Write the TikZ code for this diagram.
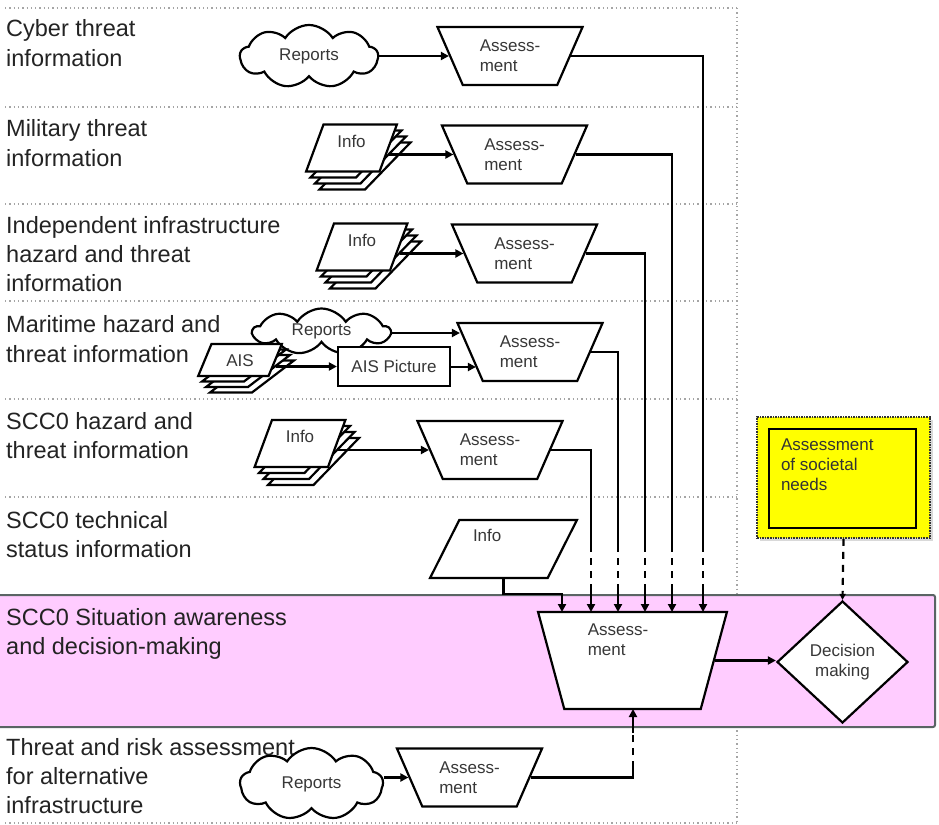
\documentclass[tikz,border=0pt]{standalone}
\usepackage{fontspec}
\setmainfont{Liberation Sans}
\usetikzlibrary{
    arrows.meta,
    shapes.geometric,
    shapes.symbols,
    positioning,
    calc,
    shadows
}
\definecolor{bandpink}{RGB}{255,204,255}
\definecolor{bandline}{RGB}{90,100,100}
\definecolor{gridgray}{RGB}{165,165,165}
\definecolor{labeltext}{RGB}{35,35,35}
\definecolor{shapetext}{RGB}{55,55,55}
\definecolor{needyellow}{RGB}{255,255,0}
\tikzstyle{rowlabel} = [
    anchor=north west,
    inner sep=0pt,
    align=left,
    text=labeltext,
    font=\fontsize{23.5}{29.3}\selectfont
]
\tikzstyle{smalltxt} = [
    inner sep=0pt,
    align=left,
    text=shapetext,
    font=\fontsize{17}{20}\selectfont
]
\tikzstyle{assess} = [
    smalltxt,
    trapezium,
    trapezium stretches=true,
    trapezium left angle=63,
    trapezium right angle=63,
    shape border rotate=180,
    draw=black,
    line width=2.2pt,
    fill=white,
    minimum width=146pt,
    minimum height=58pt
]
\tikzstyle{sheet} = [
    smalltxt,
    trapezium,
    trapezium stretches=true,
    trapezium left angle=71,
    trapezium right angle=109,
    draw=black,
    line width=2.2pt,
    fill=white,
    minimum width=91pt,
    minimum height=47pt,
    text height=12pt,
    text depth=13.6pt
]
\tikzstyle{aissheet} = [
    sheet,
    trapezium left angle=62,
    trapezium right angle=118,
    minimum width=84pt,
    minimum height=32pt,
    text depth=0pt
]
\tikzstyle{report} = [
    smalltxt,
    cloud,
    cloud puffs=9,
    cloud puff arc=115,
    cloud ignores aspect,
    draw=black,
    line width=2.2pt,
    fill=white
]
\tikzstyle{wire} = [
    draw=black,
    line width=2.2pt
]
\tikzstyle{arrow} = [
    wire,
    -{Triangle[length=8pt,width=8pt]}
]
\tikzstyle{broken} = [
    wire,
    dash pattern=on 7pt off 6pt
]
\tikzstyle{gridline} = [
    draw=gridgray,
    line width=1.3pt,
    dash pattern=on 1.3pt off 3pt
]
\tikzstyle{band} = [
    rectangle,
    rounded corners=2pt,
    draw=bandline,
    line width=2pt,
    fill=bandpink,
    minimum width=938pt,
    minimum height=132pt,
    inner sep=0pt
]

\begin{document}
\begin{tikzpicture}[x=1pt, y=-1pt]
    \useasboundingbox (0,0) rectangle (939,824);

    % Row separators
    \draw[gridline] (5,8) -- (737,8) (5,107) -- (737,107) (5,204) -- (737,204)
        (5,301) -- (737,301) (5,399) -- (737,399) (5,497) -- (737,497)
        (5,823) -- (737,823) (737,8) -- (737,823);

    % Decision band
    \node[band] (band) at (466,661) {};

    % Row labels
    \node[rowlabel] (lab1) at (6,19.5) {Cyber threat\\information};
    \node[rowlabel] (lab2) at (6,119.5) {Military threat\\information};
    \node[rowlabel] (lab3) at (6,215.8) {Independent infrastructure\\hazard and threat\\information};
    \node[rowlabel] (lab4) at (6,315.5) {Maritime hazard and\\threat information};
    \node[rowlabel] (lab5) at (6,412.1) {SCC0 hazard and\\threat information};
    \node[rowlabel] (lab6) at (6,511.1) {SCC0 technical\\status information};
    \node[rowlabel] (lab7) at (6,607.8) {SCC0 Situation awareness\\and decision-making};
    \node[rowlabel] (lab8) at (6,737.8) {Threat and risk assessment\\for alternative\\infrastructure};

    % Sources
    \node[report, minimum width=138pt, minimum height=63pt] (rep1) at (309,56.5) {Reports};

    \node[sheet] (inf2c) at (365,166) {};
    \node[sheet] (inf2b) at (360.5,160) {};
    \node[sheet] (inf2a) at (356,154) {};
    \node[sheet] (inf2) at (351.5,148) {Info};

    \node[sheet] (inf3c) at (375.5,265) {};
    \node[sheet] (inf3b) at (371,259) {};
    \node[sheet] (inf3a) at (366.5,253) {};
    \node[sheet] (inf3) at (362,247) {Info};

    \node[report, minimum width=137pt, minimum height=46pt] (rep4) at (321.5,331.5) {Reports};
    \node[aissheet] (aisc) at (252,376.5) {};
    \node[aissheet] (aisb) at (248,371) {};
    \node[aissheet] (aisa) at (244,365.5) {};
    \node[aissheet] (ais) at (240,360) {AIS};
    \node[smalltxt, draw=black, line width=2.2pt, fill=white, align=center,
        minimum width=112pt, minimum height=39pt] (aispic) at (394,366.5) {AIS Picture};

    \node[sheet] (inf5c) at (313.5,461.5) {};
    \node[sheet] (inf5b) at (309,455.5) {};
    \node[sheet] (inf5a) at (304.5,449.5) {};
    \node[sheet] (inf5) at (300,443.5) {Info};

    \node[sheet, trapezium left angle=63, trapezium right angle=117,
        minimum width=147pt, minimum height=58pt, text width=61pt,
        text depth=27.6pt] (inf6) at (503.5,549) {Info};

    \node[report, minimum width=143pt, minimum height=72pt] (rep8) at (311.5,784) {Reports};

    % First-level assessments
    \node[assess] (as1) at (510,56) {Assess-\\ment};
    \node[assess] (as2) at (514.5,154.5) {Assess-\\ment};
    \node[assess] (as3) at (524.5,253.5) {Assess-\\ment};
    \node[assess] (as4) at (530,352) {Assess-\\ment};
    \node[assess] (as5) at (490,450) {Assess-\\ment};
    \node[assess] (as8) at (469.5,777.5) {Assess-\\ment};

    % Situation assessment and decision
    \node[assess, trapezium left angle=69, trapezium right angle=69,
        minimum width=189pt, minimum height=97pt,
        text width=20pt, text height=10pt] (cass) at (632.5,660.5) {};
    \node[smalltxt] (casstxt) at ([shift={(-14.5,-20.5)}]cass.center) {Assess-\\ment};
    \node[smalltxt, diamond, draw=black, line width=2.2pt, fill=white, align=center,
        minimum width=131pt, minimum height=122pt] (dec) at (842.5,662) {Decision\\making};

    % Societal needs
    \node[draw=black!80, densely dotted, line width=1.6pt, fill=needyellow,
        minimum width=173pt, minimum height=121pt,
        drop shadow={opacity=0.3, shadow xshift=3pt, shadow yshift=-3pt}] (soc) at (843.5,477.5) {};
    \node[draw=black, line width=2.4pt, minimum width=147pt, minimum height=99pt] (socin) at (842.5,478.5) {};
    \node[smalltxt, anchor=north west, text=black!80] (soctxt)
        at ([shift={(13,11)}]socin.north west) {Assessment\\of societal\\needs};

    % Inputs to first-level assessments
    \draw[arrow] (rep1.east |- as1.west) -- (as1.west);
    \draw[arrow] (inf2.east |- as2.west) -- (as2.west);
    \draw[arrow] (inf3.east |- as3.west) -- (as3.west);
    \coordinate (as4in) at ($(as4.west)+(-9,-19)$);
    \coordinate (as4pic) at ($(as4.west)+(7,15)$);
    \draw[arrow] (rep4.east |- as4in) -- (as4in);
    \draw[arrow] (ais.east |- aispic.west) -- (aispic.west);
    \draw[arrow] (aispic.east |- as4pic) -- (as4pic);
    \draw[arrow] (inf5.east |- as5.west) -- (as5.west);
    \draw[arrow] (rep8.east |- as8.west) -- (as8.west);

    % Inputs to situation assessment
    \coordinate (brkA) at (0,545);
    \coordinate (brkB) at (0,585);
    \coordinate (in1) at (562,612);
    \coordinate (in2) at (591,612);
    \coordinate (in3) at (618,612);
    \coordinate (in4) at (645,612);
    \coordinate (in5) at (672,612);
    \coordinate (in6) at (703,612);
    \draw[arrow] (inf6.south) |- (in1 |- band.north) -- (in1);
    \draw[wire] (as5.east) -| (in2 |- brkA);
    \draw[broken] (in2 |- brkA) -- (in2 |- brkB);
    \draw[arrow] (in2 |- brkB) -- (in2);
    \draw[wire] (as4.east) -| (in3 |- brkA);
    \draw[broken] (in3 |- brkA) -- (in3 |- brkB);
    \draw[arrow] (in3 |- brkB) -- (in3);
    \draw[wire] (as3.east) -| (in4 |- brkA);
    \draw[broken] (in4 |- brkA) -- (in4 |- brkB);
    \draw[arrow] (in4 |- brkB) -- (in4);
    \draw[wire] (as2.east) -| (in5 |- brkA);
    \draw[broken] (in5 |- brkA) -- (in5 |- brkB);
    \draw[arrow] (in5 |- brkB) -- (in5);
    \draw[wire] (as1.east) -| (in6 |- brkA);
    \draw[broken] (in6 |- brkA) -- (in6 |- brkB);
    \draw[arrow] (in6 |- brkB) -- (in6);

    % Alternative infrastructure input
    \coordinate (brkC) at (0,768);
    \coordinate (brkD) at (0,733);
    \coordinate (inB) at (633,709);
    \draw[wire] (as8.east) -| (inB |- brkC);
    \draw[broken] (inB |- brkC) -- (inB |- brkD);
    \draw[arrow] (inB |- brkD) -- (inB);

    % Decision
    \draw[arrow] (cass.east) -- (cass.east -| dec.west);
    \draw[broken, -{Triangle[length=6pt,width=6pt]}] (soc.south) -- (dec.north);
\end{tikzpicture}
\end{document}
